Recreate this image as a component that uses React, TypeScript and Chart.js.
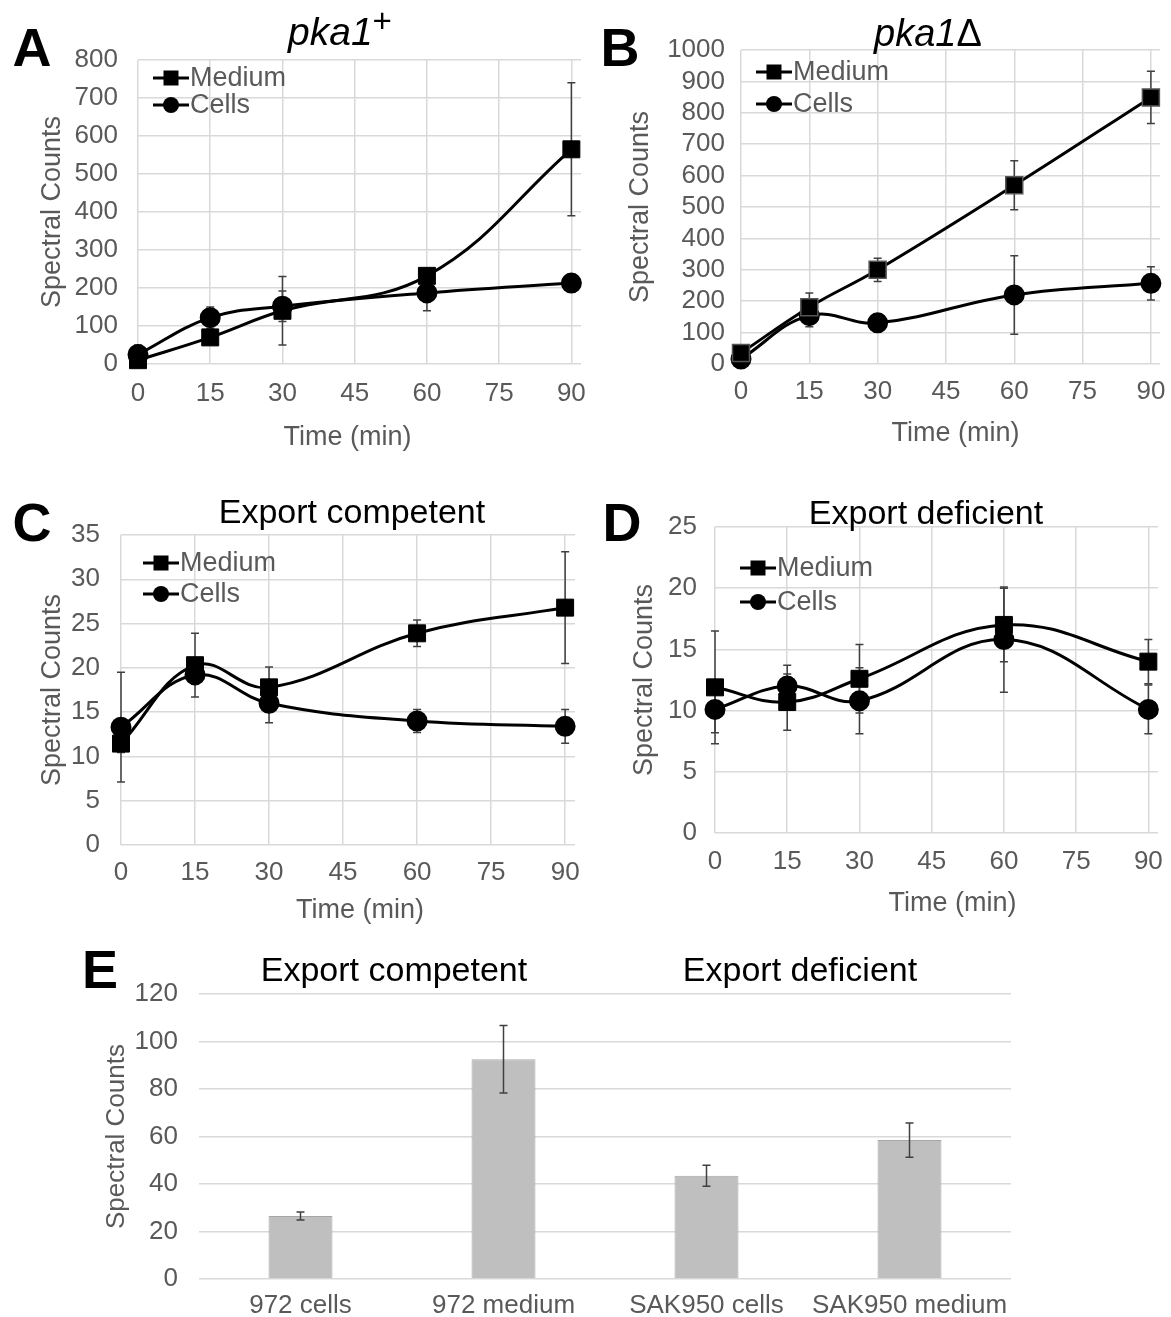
import React, { useEffect, useRef } from 'react';
import { Chart, registerables } from 'chart.js';

Chart.register(...registerables);

// ---------------- data ----------------
const TIMES = [0, 15, 30, 60, 90];
const TIME_TICKS = [0, 15, 30, 45, 60, 75, 90];

const A_MEDIUM = [10, 70, 140, 232, 565];
const A_MEDIUM_ERR = [8, 18, 90, 20, 175];
const A_CELLS = [25, 122, 152, 187, 213];
const A_CELLS_ERR = [25, 28, 40, 47, 10];
const A_Y_TICKS = [0, 100, 200, 300, 400, 500, 600, 700, 800];

const B_MEDIUM = [35, 181, 300, 569, 849];
const B_MEDIUM_ERR = [10, 45, 37, 78, 83];
const B_CELLS = [16, 154, 131, 220, 257];
const B_CELLS_ERR = [8, 35, 28, 125, 53];
const B_Y_TICKS = [0, 100, 200, 300, 400, 500, 600, 700, 800, 900, 1000];

const C_MEDIUM = [11.45, 20.3, 17.8, 23.9, 26.8];
const C_MEDIUM_ERR = [1, 3.6, 2.3, 1.5, 6.3];
const C_CELLS = [13.3, 19.2, 16.0, 14.0, 13.4];
const C_CELLS_ERR = [6.2, 1, 2.2, 1.3, 1.9];
const C_Y_TICKS = [0, 5, 10, 15, 20, 25, 30, 35];

const D_MEDIUM = [11.9, 10.7, 12.6, 17.0, 14.0];
const D_MEDIUM_ERR = [4.6, 2.3, 2.8, 3.0, 1.8];
const D_CELLS = [10.1, 12.0, 10.8, 15.8, 10.1];
const D_CELLS_ERR = [1.9, 1.7, 2.7, 4.3, 2.0];
const D_Y_TICKS = [0, 5, 10, 15, 20, 25];

const E_CATEGORIES = ['972 cells', '972 medium', 'SAK950 cells', 'SAK950 medium'];
const E_VALUES = [26.5, 92.5, 43.5, 58.5];
const E_ERRORS = [1.7, 14.2, 4.4, 7.2];
const E_Y_TICKS = [0, 20, 40, 60, 80, 100, 120];

// ---------------- styles ----------------
const FONT = "'Liberation Sans', Arial, Helvetica, sans-serif";
const GRAY = '#595959';
const GRID = '#d9d9d9';
const ERR = '#404040';
const TICK_SIZE = 26;
const TITLE_SIZE = 27;
const TITLE_HALF = (TITLE_SIZE * 1.2) / 2;
const PAD_T = 25;
const PAD_R = 20;
const X_MAX = 92;

// ---------------- plugins ----------------
function drawErrorBars(chart: any, opts: any) {
  const ctx = chart.ctx;
  ctx.save();
  ctx.strokeStyle = opts.color || ERR;
  ctx.lineWidth = opts.width || 1.5;
  const cap = opts.cap || 4;
  chart.data.datasets.forEach((ds: any, i: number) => {
    const errs = ds.errors;
    if (!errs) return;
    const meta = chart.getDatasetMeta(i);
    const ys = chart.scales[meta.yAxisID];
    meta.data.forEach((el: any, j: number) => {
      const raw = ds.data[j];
      const v = typeof raw === 'number' ? raw : raw.y;
      const e = errs[j];
      if (!e) return;
      const x = el.x;
      const t = ys.getPixelForValue(v + e);
      const b = ys.getPixelForValue(v - e);
      ctx.beginPath();
      ctx.moveTo(x, t);
      ctx.lineTo(x, b);
      ctx.moveTo(x - cap, t);
      ctx.lineTo(x + cap, t);
      ctx.moveTo(x - cap, b);
      ctx.lineTo(x + cap, b);
      ctx.stroke();
    });
  });
  ctx.restore();
}

const errorBarsPlugin = {
  id: 'errorBars',
  beforeDatasetsDraw(chart: any, _a: any, opts: any) {
    if (!opts.onTop) drawErrorBars(chart, opts);
  },
  afterDatasetsDraw(chart: any, _a: any, opts: any) {
    if (opts.onTop) drawErrorBars(chart, opts);
  },
};

const lineLegendPlugin = {
  id: 'lineLegend',
  afterDatasetsDraw(chart: any, _a: any, opts: any) {
    if (!opts || !opts.display) return;
    const ctx = chart.ctx;
    const a = chart.chartArea;
    ctx.save();
    chart.data.datasets.forEach((ds: any, i: number) => {
      const y = a.top + opts.dy + i * opts.gap;
      const x0 = a.left + opts.dx;
      ctx.strokeStyle = '#000';
      ctx.lineWidth = 3;
      ctx.beginPath();
      ctx.moveTo(x0, y);
      ctx.lineTo(x0 + 36, y);
      ctx.stroke();
      ctx.fillStyle = '#000';
      if (ds.pointStyle === 'rect') {
        ctx.fillRect(x0 + 18 - 7.5, y - 7.5, 15, 15);
      } else {
        ctx.beginPath();
        ctx.arc(x0 + 18, y, 8, 0, Math.PI * 2);
        ctx.fill();
      }
      ctx.fillStyle = GRAY;
      ctx.font = `${TITLE_SIZE}px ${FONT}`;
      ctx.textBaseline = 'middle';
      ctx.textAlign = 'left';
      ctx.fillText(ds.label, x0 + 37, y + 1);
    });
    ctx.restore();
  },
};

const xTitlePlugin = {
  id: 'xTitle',
  afterDraw(chart: any, _a: any, opts: any) {
    if (!opts || !opts.text) return;
    const ctx = chart.ctx;
    const a = chart.chartArea;
    ctx.save();
    ctx.fillStyle = GRAY;
    ctx.font = `${TITLE_SIZE}px ${FONT}`;
    ctx.textAlign = 'center';
    ctx.textBaseline = 'middle';
    ctx.fillText(opts.text, (a.left + a.right) / 2 + opts.dx, chart.height - TITLE_HALF);
    ctx.restore();
  },
};

// ---------------- panel layout ----------------
type LinePanel = {
  area: { L: number; T: number; R: number; B: number };
  yTitleX: number;
  xTitleY: number;
  xTitleDx: number;
  xTickLen: number;
  yTickLen: number;
  legend: { dx: number; dy: number; gap: number };
  medium: number[];
  mediumErr: number[];
  cells: number[];
  cellsErr: number[];
  yTicks: number[];
  squareBorder?: string;
};

const PANELS: LinePanel[] = [
  {
    area: { L: 138, T: 60, R: 581, B: 364 }, yTitleX: 52, xTitleY: 438, xTitleDx: -12, xTickLen: 11, yTickLen: 17,
    legend: { dx: 15, dy: 18, gap: 27 },
    medium: A_MEDIUM, mediumErr: A_MEDIUM_ERR, cells: A_CELLS, cellsErr: A_CELLS_ERR, yTicks: A_Y_TICKS,
  },
  {
    area: { L: 741, T: 50, R: 1160, B: 364 }, yTitleX: 640, xTitleY: 434, xTitleDx: 5, xTickLen: 9, yTickLen: 13,
    legend: { dx: 15, dy: 22, gap: 32 },
    medium: B_MEDIUM, mediumErr: B_MEDIUM_ERR, cells: B_CELLS, cellsErr: B_CELLS_ERR, yTicks: B_Y_TICKS,
    squareBorder: '#555',
  },
  {
    area: { L: 121, T: 535, R: 575, B: 845 }, yTitleX: 52, xTitleY: 911, xTitleDx: 12, xTickLen: 9, yTickLen: 18,
    legend: { dx: 22, dy: 28, gap: 31 },
    medium: C_MEDIUM, mediumErr: C_MEDIUM_ERR, cells: C_CELLS, cellsErr: C_CELLS_ERR, yTicks: C_Y_TICKS,
  },
  {
    area: { L: 715, T: 527, R: 1158, B: 833 }, yTitleX: 644, xTitleY: 904, xTitleDx: 16, xTickLen: 10, yTickLen: 15,
    legend: { dx: 25, dy: 41, gap: 34 },
    medium: D_MEDIUM, mediumErr: D_MEDIUM_ERR, cells: D_CELLS, cellsErr: D_CELLS_ERR, yTicks: D_Y_TICKS,
  },
];

const E_LAYOUT = { L: 199, T: 994, R: 1011, B: 1279, yTitleX: 117, bottom: 1317, xTickLen: 8, yTickLen: 18 };

function lineGeom(p: LinePanel) {
  const x = Math.round(p.yTitleX - TITLE_HALF);
  const y = p.area.T - PAD_T;
  const w = p.area.R + PAD_R - x;
  const h = Math.round(p.xTitleY + TITLE_HALF) - y;
  return { x, y, w, h, yWidth: p.area.L - x, xHeight: y + h - p.area.B };
}

function tickFont(size = TICK_SIZE) {
  return { family: FONT, size };
}

const plainTick = (v: any) => String(v);

function lineConfig(p: LinePanel, g: ReturnType<typeof lineGeom>): any {
  const pts = (vals: number[]) => TIMES.map((t, i) => ({ x: t, y: vals[i] }));
  return {
    type: 'line',
    data: {
      datasets: [
        {
          label: 'Medium',
          data: pts(p.medium),
          errors: p.mediumErr,
          borderColor: '#000',
          backgroundColor: '#000',
          pointBackgroundColor: '#000',
          pointBorderColor: p.squareBorder || '#000',
          pointBorderWidth: p.squareBorder ? 1.5 : 1,
          borderWidth: 3,
          pointStyle: 'rect',
          pointRadius: 12,
          tension: 0.4,
          clip: false,
        },
        {
          label: 'Cells',
          data: pts(p.cells),
          errors: p.cellsErr,
          borderColor: '#000',
          backgroundColor: '#000',
          pointBackgroundColor: '#000',
          pointBorderColor: '#000',
          borderWidth: 3,
          pointStyle: 'circle',
          pointRadius: 9,
          tension: 0.4,
          clip: false,
        },
      ],
    },
    options: {
      responsive: false,
      animation: false,
      events: [],
      layout: { padding: { top: PAD_T, right: PAD_R, left: 0, bottom: 0 } },
      plugins: {
        legend: { display: false },
        tooltip: { enabled: false },
        errorBars: { onTop: false, color: ERR, width: 1.5, cap: 4 },
        lineLegend: { display: true, ...p.legend },
        xTitle: { text: 'Time (min)', dx: p.xTitleDx },
      },
      scales: {
        x: {
          type: 'linear',
          min: 0,
          max: X_MAX,
          afterBuildTicks: (s: any) => {
            s.ticks = TIME_TICKS.map((v) => ({ value: v }));
          },
          afterFit: (s: any) => {
            s.height = g.xHeight;
          },
          ticks: { color: GRAY, font: tickFont(), padding: 3, maxRotation: 0, autoSkip: false, callback: plainTick },
          grid: { color: GRID, lineWidth: 1.5, drawTicks: true, tickLength: p.xTickLen, tickColor: 'rgba(0,0,0,0)' },
          border: { display: false },
          title: { display: false },
        },
        y: {
          type: 'linear',
          min: 0,
          max: p.yTicks[p.yTicks.length - 1],
          afterBuildTicks: (s: any) => {
            s.ticks = p.yTicks.map((v) => ({ value: v }));
          },
          afterFit: (s: any) => {
            s.width = g.yWidth;
          },
          ticks: { color: GRAY, font: tickFont(), padding: 3, autoSkip: false, callback: plainTick },
          grid: { color: GRID, lineWidth: 1.5, drawTicks: true, tickLength: p.yTickLen, tickColor: 'rgba(0,0,0,0)' },
          border: { display: false },
          title: { display: true, text: 'Spectral Counts', color: GRAY, font: { family: FONT, size: TITLE_SIZE }, padding: 0 },
        },
      },
    },
    plugins: [errorBarsPlugin, lineLegendPlugin, xTitlePlugin],
  };
}

function eGeom() {
  const x = Math.round(E_LAYOUT.yTitleX - TITLE_HALF);
  const y = E_LAYOUT.T - PAD_T;
  const w = E_LAYOUT.R + PAD_R - x;
  const h = E_LAYOUT.bottom - y;
  return { x, y, w, h, yWidth: E_LAYOUT.L - x, xHeight: E_LAYOUT.bottom - E_LAYOUT.B };
}

function barConfig(g: ReturnType<typeof eGeom>): any {
  return {
    type: 'bar',
    data: {
      labels: E_CATEGORIES,
      datasets: [
        {
          label: 'Spectral Counts',
          data: E_VALUES,
          errors: E_ERRORS,
          backgroundColor: '#bfbfbf',
          borderColor: '#a6a6a6',
          borderWidth: 1,
          barPercentage: 0.315,
          categoryPercentage: 1,
        },
      ],
    },
    options: {
      responsive: false,
      animation: false,
      events: [],
      layout: { padding: { top: PAD_T, right: PAD_R, left: 0, bottom: 0 } },
      plugins: {
        legend: { display: false },
        tooltip: { enabled: false },
        errorBars: { onTop: true, color: ERR, width: 1.5, cap: 4 },
      },
      scales: {
        x: {
          afterFit: (s: any) => {
            s.height = g.xHeight;
          },
          ticks: { color: GRAY, font: tickFont(26), padding: 3, maxRotation: 0, autoSkip: false },
          grid: { display: true, drawOnChartArea: false, drawTicks: true, tickLength: E_LAYOUT.xTickLen, tickColor: 'rgba(0,0,0,0)' },
          border: { display: false },
        },
        y: {
          min: 0,
          max: E_Y_TICKS[E_Y_TICKS.length - 1],
          afterBuildTicks: (s: any) => {
            s.ticks = E_Y_TICKS.map((v) => ({ value: v }));
          },
          afterFit: (s: any) => {
            s.width = g.yWidth;
          },
          ticks: { color: GRAY, font: tickFont(), padding: 3, autoSkip: false, callback: plainTick },
          grid: { color: GRID, lineWidth: 1.5, drawTicks: true, tickLength: E_LAYOUT.yTickLen, tickColor: 'rgba(0,0,0,0)' },
          border: { display: false },
          title: { display: true, text: 'Spectral Counts', color: GRAY, font: { family: FONT, size: TITLE_SIZE - 1 }, padding: 0 },
        },
      },
    },
    plugins: [errorBarsPlugin],
  };
}

function ChartBox({ box, config }: { box: { x: number; y: number; w: number; h: number }; config: () => any }) {
  const ref = useRef<HTMLCanvasElement>(null);
  useEffect(() => {
    const chart = new Chart(ref.current as HTMLCanvasElement, config());
    return () => chart.destroy();
  }, []);
  return (
    <canvas
      ref={ref}
      width={box.w}
      height={box.h}
      style={{ position: 'absolute', left: box.x, top: box.y, width: box.w, height: box.h }}
    />
  );
}

type Label = { node: React.ReactNode; x: number; y: number; size: number; bold?: boolean };

const LABELS: Label[] = [
  { node: 'A', x: 32, y: 47, size: 54, bold: true },
  { node: 'B', x: 620, y: 47, size: 54, bold: true },
  { node: 'C', x: 32, y: 522, size: 54, bold: true },
  { node: 'D', x: 622, y: 522, size: 54, bold: true },
  { node: 'E', x: 100, y: 969, size: 54, bold: true },
  {
    node: (
      <i>
        pka1<span style={{ fontSize: '0.85em', position: 'relative', top: '-0.4em', fontStyle: 'normal' }}>+</span>
      </i>
    ),
    x: 340, y: 31, size: 39,
  },
  {
    node: (
      <span>
        <i>pka1</i>Δ
      </span>
    ),
    x: 928, y: 33, size: 38,
  },
  { node: 'Export competent', x: 352, y: 511, size: 34 },
  { node: 'Export deficient', x: 926, y: 512, size: 34 },
  { node: 'Export competent', x: 394, y: 969, size: 34 },
  { node: 'Export deficient', x: 800, y: 969, size: 34 },
];

export default function App() {
  const eg = eGeom();
  return (
    <div
      style={{
        position: 'absolute',
        left: 0,
        top: 0,
        width: 1171,
        height: 1317,
        overflow: 'hidden',
        background: '#fff',
        fontFamily: FONT,
      }}
    >
      {PANELS.map((p, i) => {
        const g = lineGeom(p);
        return <ChartBox key={i} box={g} config={() => lineConfig(p, g)} />;
      })}
      <ChartBox box={eg} config={() => barConfig(eg)} />
      {LABELS.map((l, i) => (
        <div
          key={'t' + i}
          style={{
            position: 'absolute',
            left: l.x,
            top: l.y,
            transform: 'translate(-50%, -50%)',
            fontSize: l.size,
            fontWeight: l.bold ? 700 : 400,
            lineHeight: 1,
            whiteSpace: 'nowrap',
            color: '#000',
          }}
        >
          {l.node}
        </div>
      ))}
    </div>
  );
}
